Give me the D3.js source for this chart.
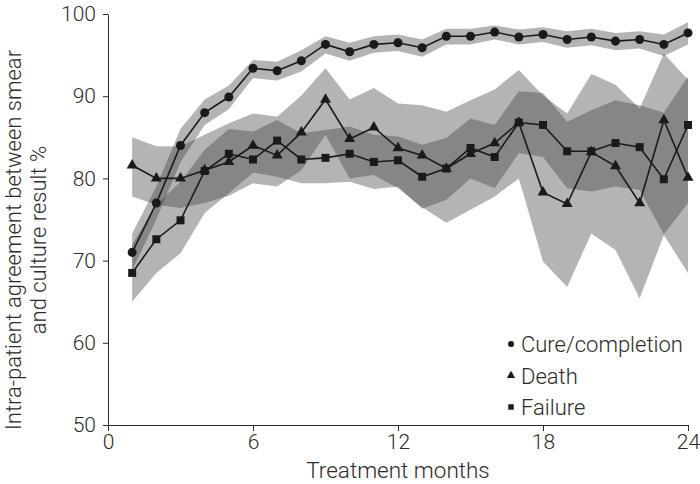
<!DOCTYPE html>
<html>
<head>
<meta charset="utf-8">
<script src="https://cdn.jsdelivr.net/npm/d3@7"></script>
<style>
  body { margin: 0; background: #fff; }
  svg { display: block; font-family: Roboto, "Open Sans", sans-serif; font-weight: 300; }
  .axis text { fill: #2b2b2b; }
  .axis path, .axis line { stroke: #2b2b2b; }
</style>
</head>
<body>
<div id="chart"></div>
<script>
const months = d3.range(1, 25);
const xTicks = [0, 6, 12, 18, 24];
const yTicks = [50, 60, 70, 80, 90, 100];

const cure = [71.0, 77.0, 84.0, 88.0, 89.9, 93.4, 93.1, 94.3, 96.3, 95.4, 96.3, 96.5, 95.9, 97.3, 97.3, 97.8, 97.2, 97.5, 96.9, 97.2, 96.7, 96.9, 96.3, 97.7];
const cureLo = [68.8, 75.0, 82.0, 86.5, 88.4, 92.2, 91.9, 93.0, 95.2, 94.3, 95.3, 95.5, 94.8, 96.3, 96.3, 96.9, 96.3, 96.6, 95.9, 96.2, 95.6, 95.8, 94.9, 96.3];
const cureHi = [73.3, 79.0, 86.0, 89.6, 91.3, 94.4, 94.2, 95.6, 97.3, 96.5, 97.3, 97.5, 96.9, 98.2, 98.2, 98.6, 98.1, 98.4, 97.9, 98.2, 97.7, 97.9, 97.5, 99.0];

const death = [81.6, 80.0, 80.0, 81.0, 82.0, 84.0, 82.8, 85.6, 89.6, 84.8, 86.2, 83.7, 82.8, 81.2, 83.0, 84.3, 86.8, 78.3, 76.9, 83.2, 81.5, 77.0, 87.1, 80.1];
const deathLo = [77.8, 76.8, 76.4, 77.0, 77.9, 79.4, 79.0, 81.0, 85.3, 80.0, 80.4, 78.8, 76.5, 74.6, 76.2, 77.8, 80.0, 69.9, 66.8, 73.3, 71.3, 65.4, 73.1, 68.5];
const deathHi = [85.0, 83.9, 83.9, 85.3, 86.7, 87.9, 87.5, 90.1, 93.4, 89.6, 91.0, 89.1, 88.9, 88.1, 89.5, 90.8, 93.2, 90.1, 87.9, 92.7, 91.4, 88.5, 95.2, 92.0];

const failure = [68.5, 72.6, 74.9, 80.9, 83.0, 82.3, 84.6, 82.3, 82.5, 83.0, 82.0, 82.2, 80.2, 81.2, 83.7, 82.6, 86.8, 86.5, 83.3, 83.3, 84.3, 83.8, 79.9, 86.5];
const failureLo = [65.0, 68.5, 70.9, 75.8, 78.2, 80.7, 80.2, 79.4, 79.4, 79.6, 78.7, 79.0, 76.3, 77.4, 80.0, 78.8, 83.1, 82.6, 78.8, 78.4, 79.0, 78.6, 73.2, 77.0];
const failureHi = [72.0, 76.8, 79.6, 83.5, 86.0, 85.7, 87.1, 85.5, 85.9, 86.3, 85.3, 85.1, 84.1, 84.9, 87.3, 86.5, 90.6, 90.4, 86.9, 88.3, 89.5, 88.9, 88.0, 92.4];

const legendLabels = ['Cure/completion', 'Death', 'Failure'];

const width = 700, height = 484;
const margin = { top: 14, right: 12, bottom: 59, left: 108 };

const svg = d3.select('#chart').append('svg')
    .attr('width', width)
    .attr('height', height);

const x = d3.scaleLinear().domain([0, 24]).range([margin.left, width - margin.right]);
const y = d3.scaleLinear().domain([50, 100]).range([height - margin.bottom, margin.top]);

// confidence bands
const bands = [[cureLo, cureHi], [deathLo, deathHi], [failureLo, failureHi]];
const area = d3.area()
    .x(d => x(d.m))
    .y0(d => y(d.lo))
    .y1(d => y(d.hi));

svg.append('g').selectAll('path')
    .data(bands)
    .join('path')
    .attr('d', b => area(months.map((m, i) => ({ m, lo: b[0][i], hi: b[1][i] }))))
    .attr('fill', 'rgb(62,62,66)')
    .attr('fill-opacity', 0.39);

// lines + markers
const series = [
    { values: cure, symbol: d3.symbolCircle, size: 64, legendSize: 30 },
    { values: death, symbol: d3.symbolTriangle, size: 52, legendSize: 30 },
    { values: failure, symbol: d3.symbolSquare, size: 64, legendSize: 30 }
];

const line = d3.line()
    .x((d, i) => x(months[i]))
    .y(d => y(d));

series.forEach(s => {
    svg.append('path')
        .attr('d', line(s.values))
        .attr('fill', 'none')
        .attr('stroke', '#1a1a1a')
        .attr('stroke-width', 1.6);

    svg.append('g').selectAll('path')
        .data(s.values)
        .join('path')
        .attr('transform', (d, i) => `translate(${x(months[i])},${y(d)})`)
        .attr('d', d3.symbol().type(s.symbol).size(s.size))
        .attr('fill', '#1a1a1a');
});

// axes
svg.append('g')
    .attr('class', 'axis')
    .attr('transform', `translate(0,${height - margin.bottom})`)
    .call(d3.axisBottom(x).tickValues(xTicks).tickSize(6).tickPadding(3).tickSizeOuter(0));

svg.append('g')
    .attr('class', 'axis')
    .attr('transform', `translate(${margin.left},0)`)
    .call(d3.axisLeft(y).tickValues(yTicks).tickSize(5).tickPadding(7).tickSizeOuter(0));

svg.selectAll('.axis text')
    .attr('font-family', 'Roboto')
    .attr('font-weight', 300)
    .attr('font-size', 21);

// axis titles
svg.append('text')
    .attr('x', (margin.left + width - margin.right) / 2)
    .attr('y', 478)
    .attr('text-anchor', 'middle')
    .attr('font-size', 22.5)
    .attr('fill', '#2b2b2b')
    .text('Treatment months');

const yTitle = svg.append('text')
    .attr('transform', 'translate(21,240) rotate(-90)')
    .attr('text-anchor', 'middle')
    .attr('font-size', 22)
    .attr('fill', '#2b2b2b');
yTitle.append('tspan').attr('x', 0).attr('dy', 0).text('Intra-patient agreement between smear');
yTitle.append('tspan').attr('x', 0).attr('dy', 25).text('and culture result %');

// legend
const legend = svg.append('g').attr('transform', 'translate(511,344)');
legendLabels.forEach((label, i) => {
    const row = legend.append('g').attr('transform', `translate(0,${i * 31.5})`);
    row.append('path')
        .attr('d', d3.symbol().type(series[i].symbol).size(series[i].legendSize))
        .attr('fill', '#1a1a1a');
    row.append('text')
        .attr('x', 10)
        .attr('y', 8)
        .attr('font-size', 22)
        .attr('fill', '#2b2b2b')
        .text(label);
});
</script>
</body>
</html>
